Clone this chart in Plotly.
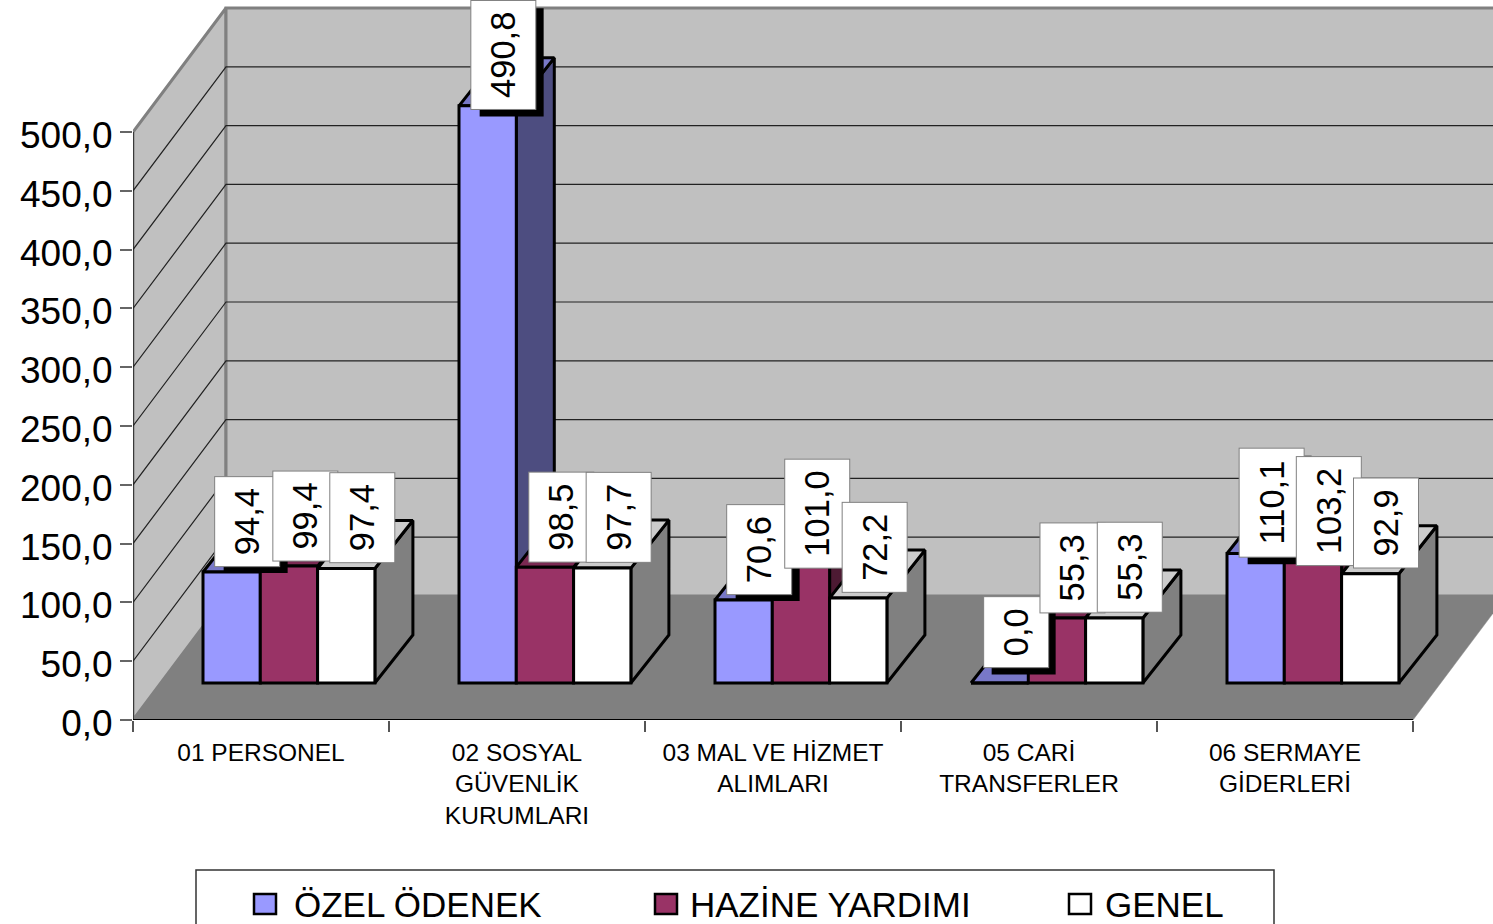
import plotly.graph_objects as go

categories = ["01 PERSONEL", "02 SOSYAL<br>GÜVENLİK<br>KURUMLARI", "03 MAL VE HİZMET<br>ALIMLARI",
              "05 CARİ<br>TRANSFERLER", "06 SERMAYE<br>GİDERLERİ"]
series_names = ["ÖZEL ÖDENEK", "HAZİNE YARDIMI", "GENEL"]
ozel_odenek = [94.4, 490.8, 70.6, 0.0, 110.1]
hazine_yardimi = [99.4, 98.5, 101.0, 55.3, 103.2]
genel = [97.4, 97.7, 72.2, 55.3, 92.9]
y_ticks = [0, 50, 100, 150, 200, 250, 300, 350, 400, 450, 500]

front_colors = ["#9999FF", "#993366", "#FFFFFF"]
top_colors = ["#7878C8", "#7A2952", "#CCCCCC"]
side_colors = ["#4D4D80", "#4D1A33", "#808080"]

W, H = 1493, 924
# pixel scale of the chart, used to turn the fake 3D offsets into axis units
PX_CAT = 256.0
PX_VAL = 1.176
WALL_DX, WALL_DY = 93 / PX_CAT, 124 / PX_VAL
DEPTH_DX, DEPTH_DY = 38 / PX_CAT, 48 / PX_VAL
BASE = 37 / PX_VAL
GROUP_LEFT = 70 / PX_CAT
BAR_W = 57.3 / PX_CAT
FONT = "Liberation Sans"
LABEL_SIZE = 34.5


def px(x):
    return x / W


def py(y):
    return 1 - y / H


def poly(xs, ys, fill, line="black", lw=3):
    return go.Scatter(x=xs, y=ys, mode="lines", fill="toself", fillcolor=fill,
                      line=dict(color=line, width=lw), hoverinfo="skip", showlegend=False)


fig = go.Figure()

# walls and floor
top = y_ticks[-1]
fig.add_trace(poly([0, WALL_DX, WALL_DX, 0, 0], [0, WALL_DY, top + WALL_DY, top, 0], "#C0C0C0", "#808080", 3))
fig.add_trace(poly([WALL_DX, 5 + WALL_DX, 5 + WALL_DX, WALL_DX, WALL_DX],
                   [WALL_DY, WALL_DY, top + WALL_DY, top + WALL_DY, WALL_DY], "#C0C0C0", "#808080", 3))
fig.add_trace(poly([0, 5, 5 + WALL_DX, WALL_DX, 0], [0, 0, WALL_DY, WALL_DY, 0], "#808080", "#808080", 0.5))

# gridlines
for v in y_ticks[1:-1]:
    fig.add_trace(go.Scatter(x=[0, WALL_DX, 5 + WALL_DX], y=[v, v + WALL_DY, v + WALL_DY], mode="lines",
                             line=dict(color="#222222", width=1.2), hoverinfo="skip", showlegend=False))

# axis lines
fig.add_trace(go.Scatter(x=[0, 0], y=[0, top], mode="lines", line=dict(color="#222222", width=1.5),
                         hoverinfo="skip", showlegend=False))
fig.add_trace(go.Scatter(x=[0, 5], y=[0, 0], mode="lines", line=dict(color="black", width=2),
                         hoverinfo="skip", showlegend=False))

all_series = [ozel_odenek, hazine_yardimi, genel]

# side and top faces, left to right
for i in range(len(categories)):
    for j, values in enumerate(all_series):
        xl = i + GROUP_LEFT + j * BAR_W
        xr = xl + BAR_W
        t = BASE + values[i]
        fig.add_trace(poly([xr, xr + DEPTH_DX, xr + DEPTH_DX, xr, xr],
                           [BASE, BASE + DEPTH_DY, t + DEPTH_DY, t, BASE], side_colors[j]))
        fig.add_trace(poly([xl, xl + DEPTH_DX, xr + DEPTH_DX, xr, xl],
                           [t, t + DEPTH_DY, t + DEPTH_DY, t, t], top_colors[j]))

# front faces on an overlaying subplot so they sit above the polygons
for j, values in enumerate(all_series):
    xs = [i + GROUP_LEFT + (j + 0.5) * BAR_W for i in range(len(categories))]
    fig.add_trace(go.Bar(x=xs, y=values, base=BASE, width=BAR_W, name=series_names[j], xaxis="x2", yaxis="y2",
                         marker=dict(color=front_colors[j], line=dict(color="black", width=3)),
                         showlegend=False))

# data labels
annotations = []
shapes = []
for j, values in enumerate(all_series):
    for i, v in enumerate(values):
        label = f"{v:.1f}".replace(".", ",")
        cx = i + GROUP_LEFT + (j + 0.5) * BAR_W + 16 / PX_CAT
        cy = BASE + v + 50.5 / PX_VAL
        box_len = ((len(label) - 1) * 0.556 + 0.278) * LABEL_SIZE + 22
        annotations.append(dict(x=cx, y=cy, xref="x", yref="y", text=label, textangle=-90, showarrow=False,
                                xanchor="center", yanchor="middle", width=box_len, height=64, borderpad=0,
                                align="center", valign="middle", bgcolor="white", bordercolor="#808080",
                                borderwidth=1, font=dict(family=FONT, size=LABEL_SIZE, color="black")))
        if j == 0:
            # black drop shadow of the first series' labels
            half_h = box_len / 2
            half_w = 32
            shapes.append(dict(type="rect", xref="x", yref="y", layer="above",
                               x0=cx + (8 - half_w) / PX_CAT, x1=cx + (8 + half_w) / PX_CAT,
                               y0=cy - (half_h + 7) / PX_VAL, y1=cy + (half_h - 7) / PX_VAL,
                               fillcolor="black", line=dict(width=0)))

# legend box, cut off by the bottom of the picture
shapes.append(dict(type="rect", xref="paper", yref="paper", x0=px(196), x1=px(1274), y0=py(940), y1=py(870),
                   fillcolor="white", line=dict(color="#333333", width=1.5)))
legend_keys = [254, 655, 1069]
legend_text = [292, 688, 1103]
for name, kx, tx, c in zip(series_names, legend_keys, legend_text, front_colors):
    shapes.append(dict(type="rect", xref="paper", yref="paper", x0=px(kx), x1=px(kx + 22), y0=py(914), y1=py(894),
                       fillcolor=c, line=dict(color="black", width=2.5)))
    annotations.append(dict(x=px(tx), y=py(904), xref="paper", yref="paper", text=name, showarrow=False,
                            xanchor="left", yanchor="middle", font=dict(family=FONT, size=35, color="black")))

x_range = [0, (W - 133) / PX_CAT]
y_range = [0, 720 / PX_VAL]
x_domain = [133 / W, 1]
y_domain = [(H - 720) / H, 1]

fig.update_layout(
    width=W, height=H, margin=dict(l=0, r=0, t=0, b=0, autoexpand=False), paper_bgcolor="white", plot_bgcolor="white",
    barmode="overlay", separators=",.", showlegend=False, font=dict(family=FONT, color="black"),
    annotations=annotations, shapes=shapes,
    xaxis=dict(domain=x_domain, range=x_range, showgrid=False, zeroline=False, showline=False, automargin=False,
               tickmode="array", tickvals=[i + 0.5 for i in range(len(categories))], ticktext=categories,
               ticks="", tickangle=0, tickfont=dict(size=24.5), ticklabelstandoff=15,
               minor=dict(tickmode="array", tickvals=list(range(len(categories) + 1)), ticks="outside",
                          ticklen=11, tickwidth=1.5, tickcolor="#555555", showgrid=False)),
    yaxis=dict(domain=y_domain, range=y_range, showgrid=False, zeroline=False, showline=False, automargin=False,
               tickmode="array", tickvals=y_ticks, tickformat=".1f", ticks="outside", ticklen=12,
               tickwidth=2, tickcolor="#666666", tickfont=dict(size=37), ticklabelstandoff=0, ticklabelshift=3),
    xaxis2=dict(domain=x_domain, range=x_range, overlaying="x", visible=False),
    yaxis2=dict(domain=y_domain, range=y_range, overlaying="y", visible=False),
)

# the page's default body margin would push the chart off its place
fig.write_html("out.html", config=dict(displayModeBar=False),
               post_script="document.body.style.margin='0';document.body.style.overflow='hidden';")
